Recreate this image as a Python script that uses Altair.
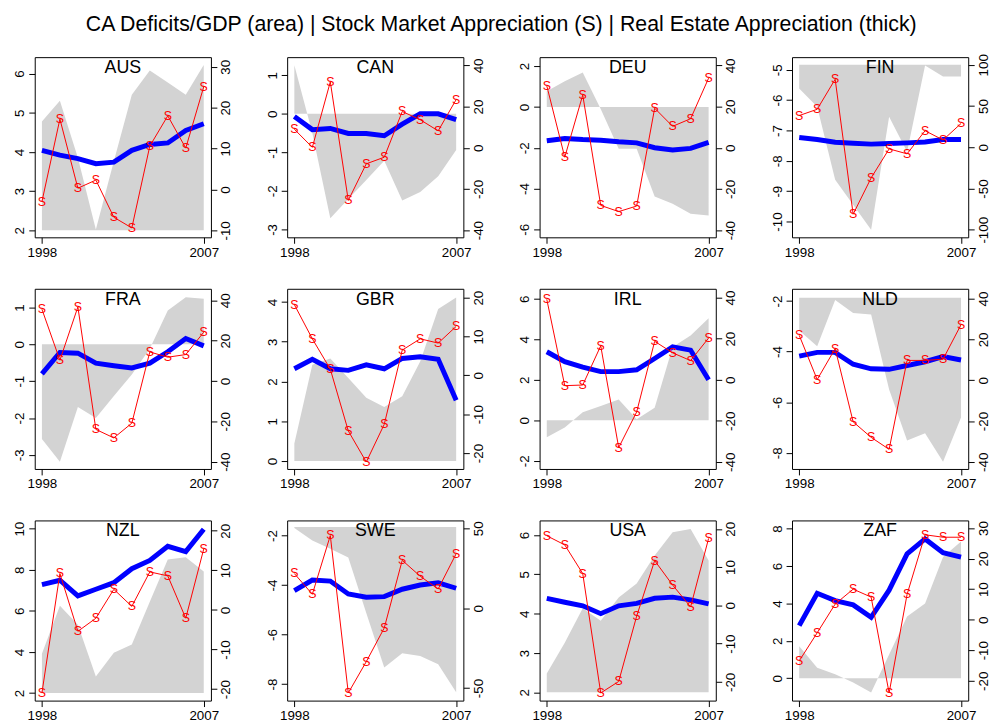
import altair as alt
import pandas as pd

FONT = "Liberation Sans"
TITLE = "CA Deficits/GDP (area) | Stock Market Appreciation (S) | Real Estate Appreciation (thick)"

YEARS = [1998, 1999, 2000, 2001, 2002, 2003, 2004, 2005, 2006, 2007]
X_TICKS = [1998, 2007]

# ---- AUS
AUS_CA = [4.78, 5.31, 3.85, 2.02, 3.76, 5.46, 6.08, 5.77, 5.46, 6.22]
AUS_RE = [4.04, 3.92, 3.83, 3.70, 3.74, 4.04, 4.19, 4.23, 4.55, 4.72]
AUS_SM = [-3.0, 17.2, 0.3, 2.3, -6.8, -9.4, 10.6, 18.0, 10.1, 25.1]
AUS_BASE = 2.0
AUS_LDOM = [1.82, 6.42]
AUS_RDOM = [-11.7, 32.34]
AUS_LTICKS = [2, 3, 4, 5, 6]
AUS_RTICKS = [-10, 0, 10, 20, 30]

# ---- CAN
CAN_CA = [1.26, -0.5, -2.71, -2.21, -1.72, -1.22, -2.25, -2.03, -1.62, -0.94]
CAN_RE = [-0.07, -0.41, -0.38, -0.51, -0.51, -0.57, -0.27, 0.0, 0.0, -0.15]
CAN_SM = [9.0, 0.2, 32.0, -25.6, -7.8, -4.6, 17.6, 13.6, 8.2, 23.4]
CAN_BASE = 0.0
CAN_LDOM = [-3.205, 1.47]
CAN_RDOM = [-43.5, 44.0]
CAN_LTICKS = [-3, -2, -1, 0, 1]
CAN_RTICKS = [-40, -20, 0, 20, 40]

# ---- DEU
DEU_CA = [0.77, 1.26, 1.69, -0.1, -2.05, -2.05, -4.39, -4.74, -5.23, -5.32]
DEU_RE = [-1.66, -1.55, -1.60, -1.63, -1.71, -1.76, -2.0, -2.11, -2.03, -1.74]
DEU_SM = [30.1, -4.6, 25.6, -28.0, -31.0, -28.3, 19.2, 10.4, 14.1, 33.8]
DEU_BASE = 0.0
DEU_LDOM = [-6.39, 2.44]
DEU_RDOM = [-43.5, 44.0]
DEU_LTICKS = [-6, -4, -2, 0, 2]
DEU_RTICKS = [-40, -20, 0, 20, 40]

# ---- FIN
FIN_CA = [-5.62, -6.22, -8.62, -9.45, -10.27, -6.55, -7.7, -4.86, -5.22, -5.22]
FIN_RE = [-7.23, -7.30, -7.39, -7.42, -7.45, -7.43, -7.41, -7.38, -7.30, -7.30]
FIN_SM = [38.4, 46.0, 82.4, -81.2, -37.2, -2.0, -8.0, 20.0, 8.8, 28.8]
FIN_BASE = -4.84
FIN_LDOM = [-10.52, -4.586]
FIN_RDOM = [-109.2, 109.2]
FIN_LTICKS = [-10, -9, -8, -7, -6, -5]
FIN_RTICKS = [-100, -50, 0, 50, 100]

# ---- FRA
FRA_CA = [-2.57, -3.19, -1.70, -2.0, -1.4, -0.82, -0.12, 0.92, 1.28, 1.24]
FRA_RE = [-0.80, -0.22, -0.24, -0.51, -0.58, -0.64, -0.51, -0.20, 0.16, -0.04]
FRA_SM = [35.6, 10.3, 36.7, -24.0, -28.2, -20.9, 14.4, 11.8, 13.1, 24.2]
FRA_BASE = 0.0
FRA_LDOM = [-3.385, 1.51]
FRA_RDOM = [-43.6, 45.7]
FRA_LTICKS = [-3, -2, -1, 0, 1]
FRA_RTICKS = [-40, -20, 0, 20, 40]

# ---- GBR
GBR_CA = [0.44, 2.42, 2.58, 2.09, 1.59, 1.36, 1.63, 2.5, 3.82, 4.11]
GBR_RE = [2.32, 2.56, 2.32, 2.28, 2.42, 2.32, 2.58, 2.62, 2.56, 1.53]
GBR_SM = [18.2, 9.4, 1.6, -14.3, -22.3, -12.6, 6.5, 9.4, 8.3, 12.6]
GBR_BASE = 0.0
GBR_LDOM = [-0.198, 4.33]
GBR_RDOM = [-24.1, 22.28]
GBR_LTICKS = [0, 1, 2, 3, 4]
GBR_RTICKS = [-20, -10, 0, 10, 20]

# ---- IRL
IRL_CA = [-0.84, -0.36, 0.40, 0.70, 1.02, 0.05, 0.62, 3.62, 4.19, 5.03]
IRL_RE = [3.38, 2.89, 2.62, 2.40, 2.40, 2.49, 3.05, 3.62, 3.46, 2.0]
IRL_SM = [39.2, -2.9, -2.6, 16.5, -33.1, -15.7, 18.7, 13.1, 9.3, 20.3]
IRL_BASE = 0.0
IRL_LDOM = [-2.405, 6.49]
IRL_RDOM = [-43.5, 44.3]
IRL_LTICKS = [-2, 0, 2, 4, 6]
IRL_RTICKS = [-40, -20, 0, 20, 40]

# ---- NLD
NLD_CA = [-3.17, -3.79, -1.96, -2.48, -2.54, -5.50, -7.51, -7.22, -8.35, -6.60]
NLD_RE = [-4.18, -4.03, -4.03, -4.50, -4.68, -4.70, -4.55, -4.40, -4.20, -4.33]
NLD_SM = [22.0, 0.3, 15.5, -20.4, -28.0, -33.9, 9.7, 9.7, 10.3, 27.2]
NLD_BASE = -1.87
NLD_LDOM = [-8.635, -1.52]
NLD_RDOM = [-43.5, 44.8]
NLD_LTICKS = [-8, -6, -4, -2]
NLD_RTICKS = [-40, -20, 0, 20, 40]

# ---- NZL
NZL_CA = [3.91, 6.25, 5.32, 2.80, 3.96, 4.36, 6.44, 8.50, 8.61, 7.92]
NZL_RE = [7.28, 7.49, 6.73, 7.05, 7.37, 8.05, 8.45, 9.14, 8.88, 9.97]
NZL_SM = [-21.0, 9.2, -5.4, -2.1, 5.2, 0.9, 9.6, 8.6, -2.1, 15.4]
NZL_BASE = 2.0
NZL_LDOM = [1.63, 10.40]
NZL_RDOM = [-22.9, 22.6]
NZL_LTICKS = [2, 4, 6, 8, 10]
NZL_RTICKS = [-20, -10, 0, 10, 20]

# ---- SWE
SWE_CA = [-1.70, -2.2, -2.53, -2.89, -5.13, -7.33, -6.76, -6.87, -7.2, -8.33]
SWE_RE = [-4.23, -3.80, -3.84, -4.36, -4.49, -4.47, -4.17, -4.00, -3.91, -4.13]
SWE_SM = [21.7, 8.7, 45.5, -53.1, -33.5, -12.4, 30.0, 20.0, 12.0, 34.1]
SWE_BASE = -1.66
SWE_LDOM = [-8.67, -1.39]
SWE_RDOM = [-57.9, 54.96]
SWE_LTICKS = [-8, -6, -4, -2]
SWE_RTICKS = [-50, 0, 50]

# ---- USA
USA_CA = [2.48, 3.26, 4.14, 3.82, 4.41, 4.77, 5.48, 6.07, 6.15, 5.35]
USA_RE = [4.39, 4.29, 4.20, 4.00, 4.20, 4.26, 4.39, 4.42, 4.35, 4.25]
USA_SM = [18.2, 15.8, 8.3, -22.9, -19.9, -2.8, 11.7, 5.3, -0.4, 17.5]
USA_BASE = 2.0
USA_LDOM = [1.79, 6.37]
USA_RDOM = [-24.9, 22.2]
USA_LTICKS = [2, 3, 4, 5, 6]
USA_RTICKS = [-20, -10, 0, 10, 20]

# ---- ZAF
ZAF_CA = [1.71, 0.56, 0.21, -0.23, -0.76, 1.27, 3.30, 4.0, 6.48, 7.31]
ZAF_RE = [2.81, 4.54, 4.15, 3.92, 3.26, 4.71, 6.65, 7.45, 6.71, 6.48]
ZAF_SM = [-13.5, -4.3, 5.1, 10.0, 7.4, -24.0, 8.3, 27.8, 27.0, 27.0]
ZAF_BASE = 0.0
ZAF_LDOM = [-1.2, 8.44]
ZAF_RDOM = [-26.5, 32.5]
ZAF_LTICKS = [0, 2, 4, 6, 8]
ZAF_RTICKS = [-20, -10, 0, 10, 20, 30]

PANELS = [
    ("AUS", AUS_CA, AUS_RE, AUS_SM, AUS_BASE, AUS_LDOM, AUS_RDOM, AUS_LTICKS, AUS_RTICKS),
    ("CAN", CAN_CA, CAN_RE, CAN_SM, CAN_BASE, CAN_LDOM, CAN_RDOM, CAN_LTICKS, CAN_RTICKS),
    ("DEU", DEU_CA, DEU_RE, DEU_SM, DEU_BASE, DEU_LDOM, DEU_RDOM, DEU_LTICKS, DEU_RTICKS),
    ("FIN", FIN_CA, FIN_RE, FIN_SM, FIN_BASE, FIN_LDOM, FIN_RDOM, FIN_LTICKS, FIN_RTICKS),
    ("FRA", FRA_CA, FRA_RE, FRA_SM, FRA_BASE, FRA_LDOM, FRA_RDOM, FRA_LTICKS, FRA_RTICKS),
    ("GBR", GBR_CA, GBR_RE, GBR_SM, GBR_BASE, GBR_LDOM, GBR_RDOM, GBR_LTICKS, GBR_RTICKS),
    ("IRL", IRL_CA, IRL_RE, IRL_SM, IRL_BASE, IRL_LDOM, IRL_RDOM, IRL_LTICKS, IRL_RTICKS),
    ("NLD", NLD_CA, NLD_RE, NLD_SM, NLD_BASE, NLD_LDOM, NLD_RDOM, NLD_LTICKS, NLD_RTICKS),
    ("NZL", NZL_CA, NZL_RE, NZL_SM, NZL_BASE, NZL_LDOM, NZL_RDOM, NZL_LTICKS, NZL_RTICKS),
    ("SWE", SWE_CA, SWE_RE, SWE_SM, SWE_BASE, SWE_LDOM, SWE_RDOM, SWE_LTICKS, SWE_RTICKS),
    ("USA", USA_CA, USA_RE, USA_SM, USA_BASE, USA_LDOM, USA_RDOM, USA_LTICKS, USA_RTICKS),
    ("ZAF", ZAF_CA, ZAF_RE, ZAF_SM, ZAF_BASE, ZAF_LDOM, ZAF_RDOM, ZAF_LTICKS, ZAF_RTICKS),
]

W, H = 178, 182
X_DOMAIN = [1997.6, 2007.4]
LABEL_EXPR = "'' + datum.value"


def panel(name, ca, re, sm, base, ldom, rdom, lticks, rticks):
    df = pd.DataFrame({"year": YEARS, "ca": ca, "base": [base] * len(YEARS), "re": re, "sm": sm})
    x_axis = alt.Axis(values=X_TICKS, labelExpr=LABEL_EXPR, labelAngle=0, title=None,
                      labelFlush=False, labelOverlap=False)
    x = alt.X("year:Q", scale=alt.Scale(domain=X_DOMAIN, nice=False, zero=False), axis=x_axis)

    l_scale = alt.Scale(domain=ldom, nice=False, zero=False)
    l_axis = alt.Axis(orient="left", values=lticks, labelExpr=LABEL_EXPR, labelAngle=270,
                      labelAlign="center", labelBaseline="bottom", title=None,
                      labelFlush=False, labelOverlap=False)
    r_scale = alt.Scale(domain=rdom, nice=False, zero=False)
    r_axis = alt.Axis(orient="right", values=rticks, labelExpr=LABEL_EXPR, labelAngle=270,
                      labelAlign="center", labelBaseline="top", title=None,
                      labelFlush=False, labelOverlap=False)

    area = alt.Chart(df).mark_area(color="#D3D3D3", opacity=1).encode(
        x=x, y=alt.Y("ca:Q", scale=l_scale, axis=l_axis), y2="base:Q")
    blue = alt.Chart(df).mark_line(color="#0000FF", strokeWidth=5).encode(
        x=x, y=alt.Y("re:Q", scale=l_scale, axis=l_axis))
    label = alt.Chart(pd.DataFrame({"name": [name]})).mark_text(
        font=FONT, fontSize=18, color="black", align="center", baseline="alphabetic").encode(
        text="name:N", x=alt.value(W / 2), y=alt.value(16))
    left = alt.layer(area, blue, label)

    red_line = alt.Chart(df).mark_line(color="#FF0000", strokeWidth=1).encode(
        x=x, y=alt.Y("sm:Q", scale=r_scale, axis=r_axis))
    red_s = alt.Chart(df).mark_text(text="S", color="#FF0000", font=FONT, fontSize=12.5,
                                    align="center", baseline="middle").encode(
        x=x, y=alt.Y("sm:Q", scale=r_scale, axis=r_axis))
    right = alt.layer(red_line, red_s)

    return alt.layer(left, right).resolve_scale(y="independent").properties(width=W, height=H)


charts = [panel(*p) for p in PANELS]

chart = alt.concat(*charts, columns=4, spacing={"row": 52, "column": 77}, bounds="flush").properties(
    title=alt.TitleParams(TITLE, font=FONT, fontSize=21.5, fontWeight="normal", color="black",
                          anchor="middle", offset=18),
    padding={"left": 4, "top": 2, "right": 0, "bottom": 0},
    background="white",
).configure_view(
    stroke="black", strokeWidth=1, fill="white"
).configure_axis(
    domain=False, grid=False, ticks=True, tickSize=6, tickColor="black", tickWidth=1,
    labelFont=FONT, labelFontSize=13.5, labelColor="black", labelPadding=2,
)

chart.save("out.html", embed_options={"renderer": "svg", "actions": False})
